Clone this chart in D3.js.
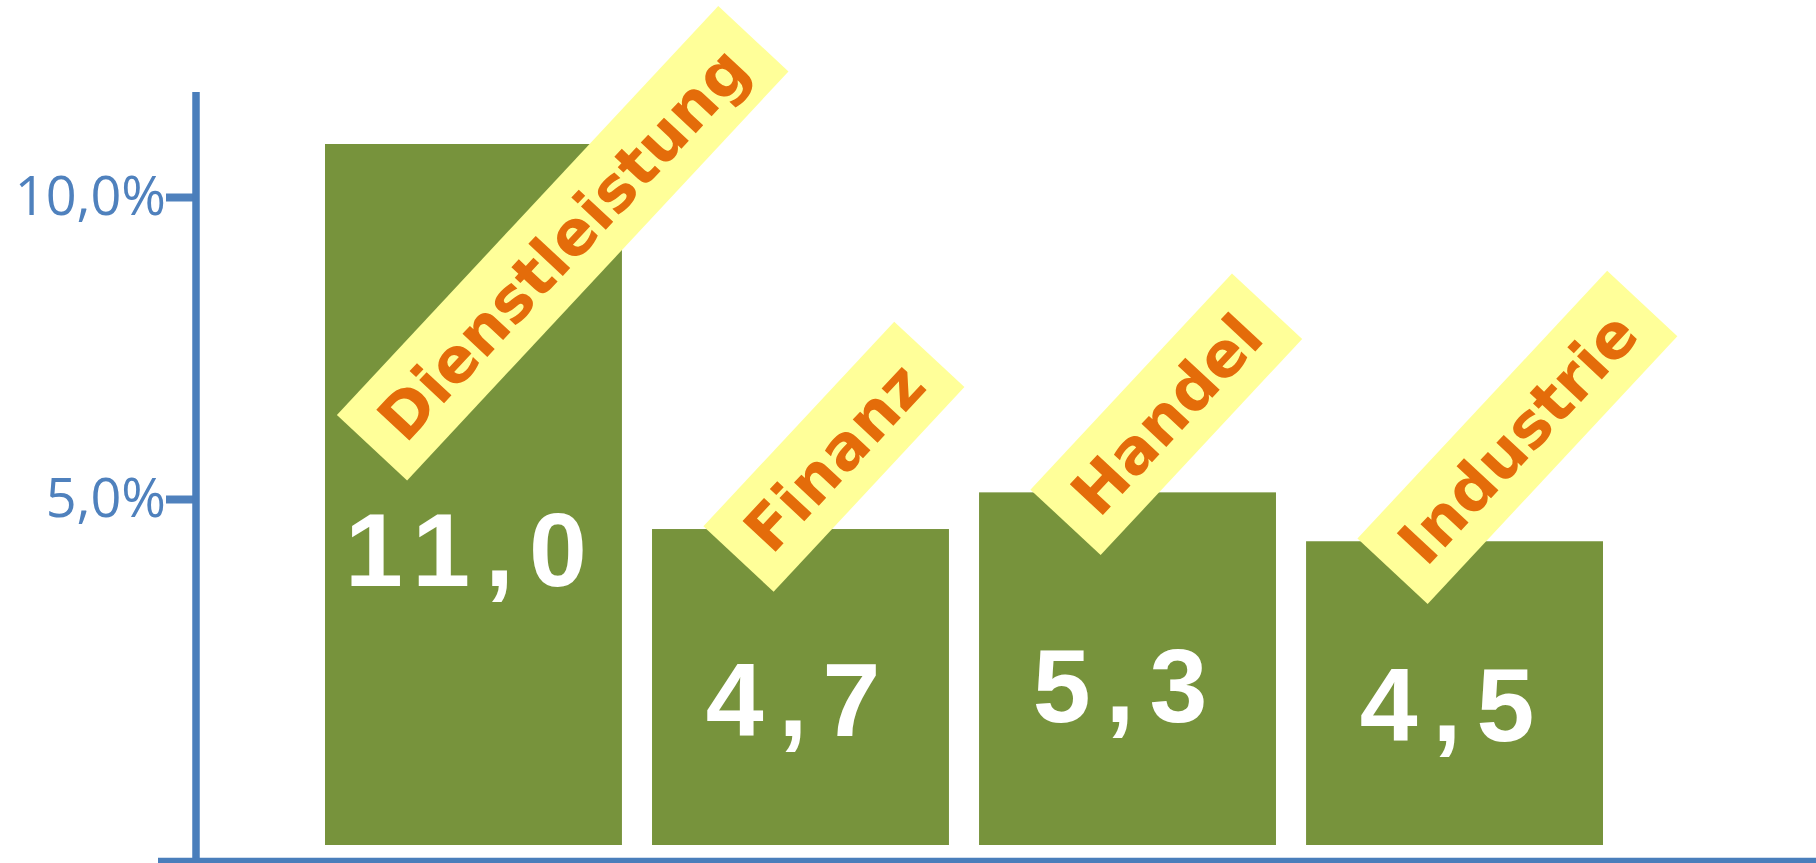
<!DOCTYPE html>
<html>
<head>
<meta charset="utf-8">
<script src="https://cdn.jsdelivr.net/npm/d3@7"></script>
</head>
<body style="margin:0; background:#fff; overflow:hidden">
<svg width="1816" height="863"></svg>
<script>
// Data
let categories = ["Dienstleistung", "Finanz", "Handel", "Industrie"];
let values = [11.0, 4.7, 5.3, 4.5];
let tickValues = [0.05, 0.10];

let svg = d3.select("svg");
let width = +svg.attr("width");
let height = +svg.attr("height");

// German number format: 10,0%
let de = d3.formatLocale({ decimal: ",", thousands: ".", grouping: [3], currency: ["", " €"] });
let pct = de.format(".1%");
let num = de.format(".1f");

// Scales
let x = d3.scaleBand()
  .domain(categories)
  .range([325, 1603])
  .paddingInner(0.092)
  .paddingOuter(0);

// bars don't sit on the axis' 0%, so they get their own scale
let yBar = d3.scaleLinear().domain([-0.47, 11]).range([845, 144]);
let yAxis = d3.scaleLinear().domain([0, 0.10]).range([801, 197]);

// bars
svg.append("g")
  .selectAll("rect")
  .data(values)
  .enter()
  .append("rect")
  .attr("x", (d, i) => x(categories[i]))
  .attr("y", d => yBar(d))
  .attr("width", x.bandwidth())
  .attr("height", d => yBar.range()[0] - yBar(d))
  .attr("fill", "#77933C");

// value labels inside bars
svg.append("g")
  .selectAll("text")
  .data(values)
  .enter()
  .append("text")
  .attr("x", (d, i) => x(categories[i]) + x.bandwidth() / 2)
  .attr("y", d => yBar(d * 0.39 - 0.52))
  .attr("text-anchor", "middle")
  .attr("fill", "#fff")
  .attr("font-family", "Liberation Sans, Arial, Helvetica, sans-serif")
  .attr("font-weight", "bold")
  .attr("font-size", 104)
  .attr("letter-spacing", 15)
  .text(d => num(d));

// rotated category tags
let angle = -47;
let bandW = 96;
let pad = 25;
let rad = angle * Math.PI / 180;
let tags = svg.append("g");
categories.forEach((c, i) => {
  let g = tags.append("g");
  let t = g.append("text")
    .attr("fill", "#E46C0A")
    .attr("font-family", "DejaVu Sans, Verdana, sans-serif")
    .attr("font-weight", "bold")
    .attr("font-size", 62)
    .text(c);
  let len = t.node().getComputedTextLength() + 2 * pad;
  let top = yBar(values[i]);
  // anchor = midpoint of the lower short edge
  let ay = top + 30;
  let ax = x(c) + x.bandwidth() / 2 - 62;
  let minY = 6 + (bandW / 2) * Math.cos(-rad) + len * Math.sin(-rad);
  if (ay < minY) {
    ay = minY;
    ax = x(c) + 47;
  }
  g.attr("transform", "translate(" + ax + "," + ay + ") rotate(" + angle + ")");
  g.insert("rect", "text")
    .attr("x", 0)
    .attr("y", -bandW / 2)
    .attr("width", len)
    .attr("height", bandW)
    .attr("fill", "#FFFF99");
  t.attr("x", len / 2)
    .attr("y", 0)
    .attr("dy", "0.36em")
    .attr("text-anchor", "middle");
});

// y axis
let axisG = svg.append("g")
  .attr("transform", "translate(196,0)")
  .call(d3.axisLeft(yAxis)
    .tickValues(tickValues)
    .tickFormat(pct)
    .tickSize(30)
    .tickPadding(0));
axisG.select(".domain").remove();
axisG.selectAll(".tick line")
  .attr("stroke", "#4F81BD")
  .attr("stroke-width", 8);
axisG.selectAll(".tick text")
  .attr("fill", "#4F81BD")
  .attr("font-family", "Open Sans, sans-serif")
  .attr("font-size", 54);

// axis lines
svg.append("line")
  .attr("x1", 196).attr("x2", 196)
  .attr("y1", 92).attr("y2", height)
  .attr("stroke", "#4A7EBB")
  .attr("stroke-width", 7.5);
svg.append("line")
  .attr("x1", 158).attr("x2", width)
  .attr("y1", 861.5).attr("y2", 861.5)
  .attr("stroke", "#4A7EBB")
  .attr("stroke-width", 7.5);
</script>
</body>
</html>
